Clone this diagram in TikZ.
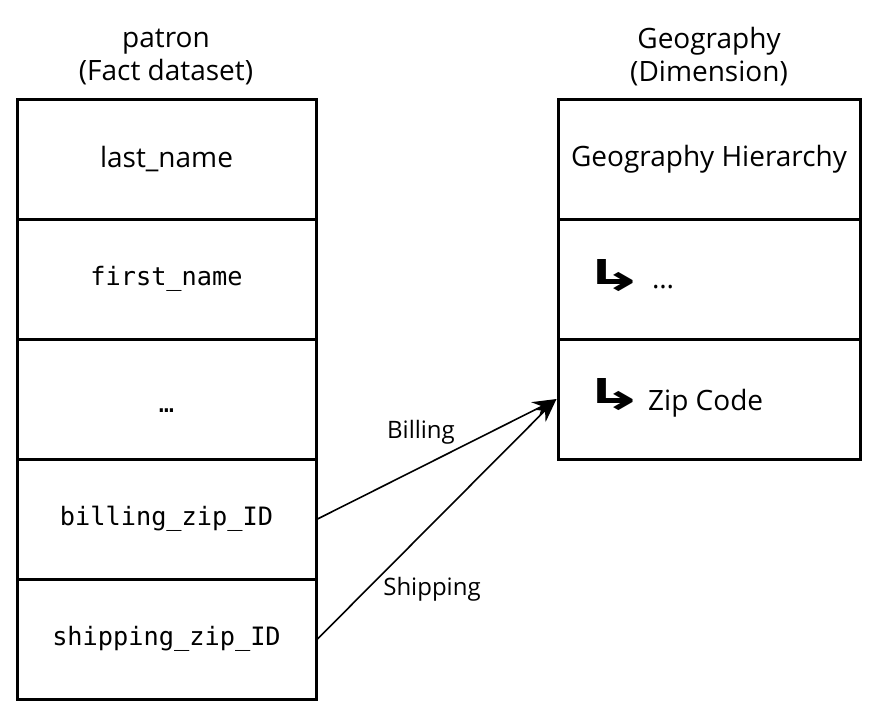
\documentclass[tikz,border=0pt]{standalone}
\usepackage{fontspec}
\setmainfont{Open Sans}
\setmonofont{DejaVu Sans Mono}
\newfontfamily\symfont{DejaVu Sans}
\usetikzlibrary{arrows.meta}
\newcommand{\hookarrow}{\resizebox{62pt}{31pt}{\symfont\bfseries ↳}}
\begin{document}
\begin{tikzpicture}[x=1pt,y=-1pt,
  cell/.style={draw,line width=3pt,minimum width=299pt,minimum height=120pt,inner sep=0pt,font=\fontsize{28}{32}\selectfont},
  rcell/.style={draw,line width=3pt,minimum width=302pt,minimum height=120pt,inner sep=0pt,font=\fontsize{28}{32}\selectfont},
  mono/.style={font=\fontsize{25.3}{28}\selectfont\ttfamily},
  title/.style={align=center,font=\fontsize{28}{33}\selectfont},
  lbl/.style={font=\fontsize{24}{28}\selectfont},
  hook/.style={inner sep=0pt,anchor=center},
  item/.style={inner sep=0pt,anchor=base west,font=\fontsize{28}{32}\selectfont},
  link/.style={line width=1.6pt,-{Stealth[length=24pt,width=17pt]}}]
\useasboundingbox (0,0) rectangle (876,716);
\node[title] (t1) at (166,57) {patron\\(Fact dataset)};
\node[title] (t2) at (709,57) {Geography\\(Dimension)};
\node[cell] (c1) at (166.5,159) {last\_name};
\node[cell,mono] (c2) at (166.5,279) {first\_name};
\node[cell,mono] (c3) at (166.5,399) {\raisebox{-13pt}[0pt][0pt]{…}};
\node[cell,mono] (c4) at (166.5,519) {billing\_zip\_ID};
\node[cell,mono] (c5) at (166.5,639) {shipping\_zip\_ID};
\node[rcell] (r1) at (709,159) {Geography Hierarchy};
\node[rcell] (r2) at (709,279) {};
\node[rcell] (r3) at (709,399) {};
\node[hook] (h2) at (614,276) {\hookarrow};
\node[item] (i2) at (652,288) {…};
\node[hook] (h3) at (614,395) {\hookarrow};
\node[item] (i3) at (648,410) {Zip Code};
\draw[link] (c4.east) -- (r3.west);
\draw[link] (c5.east) -- (r3.west);
\node[lbl] (lb) at (421,432) {Billing};
\node[lbl] (ls) at (432,589) {Shipping};
\end{tikzpicture}
\end{document}
